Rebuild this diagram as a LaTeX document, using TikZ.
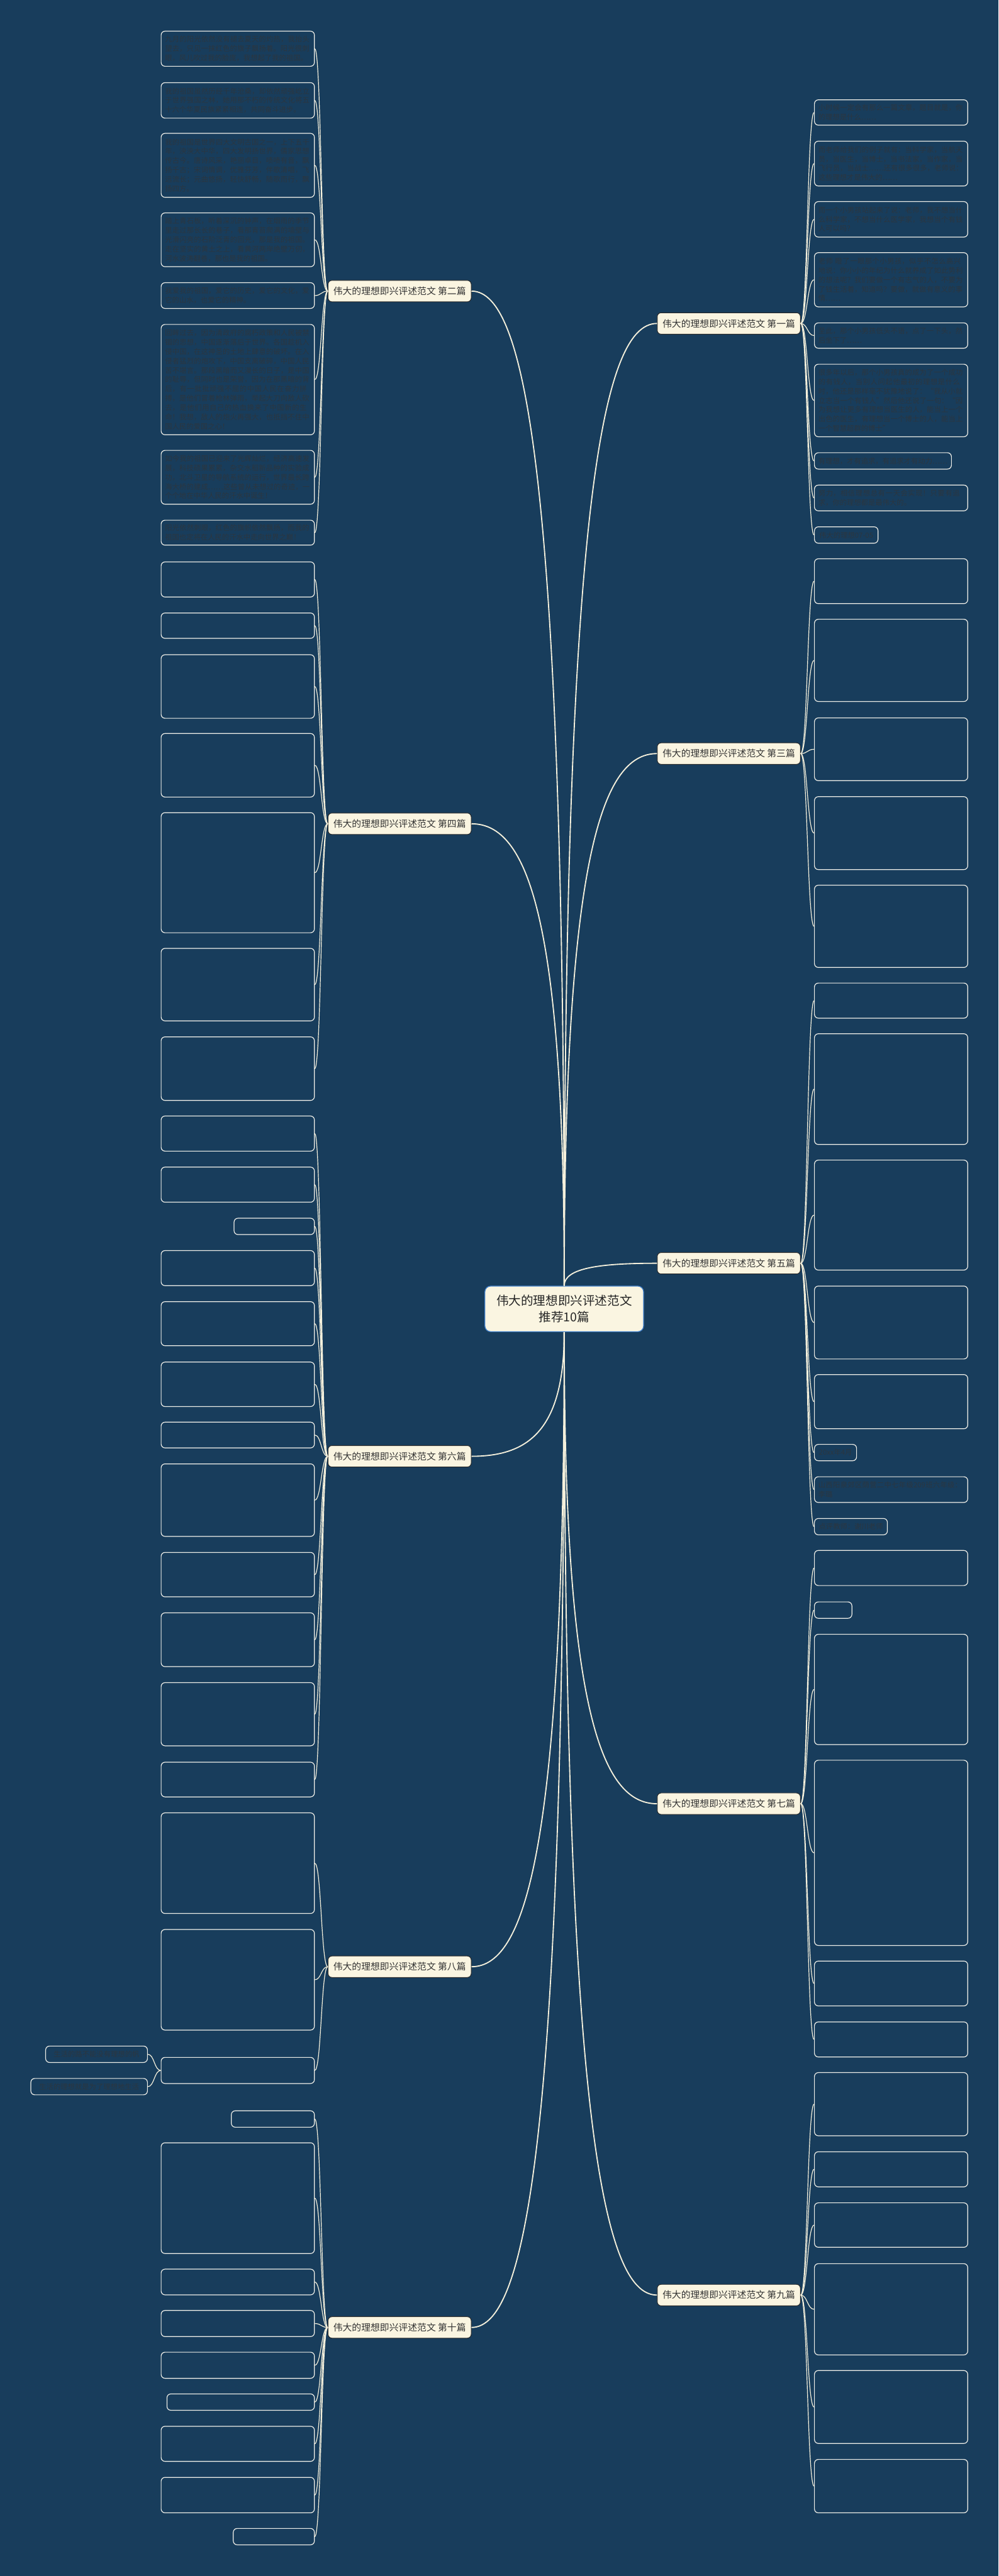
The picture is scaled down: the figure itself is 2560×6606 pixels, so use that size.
\documentclass[tikz,border=0pt]{standalone}
\usepackage{fontspec}
\setmainfont{Noto Sans CJK SC}
\XeTeXlinebreaklocale "zh"
\XeTeXlinebreakskip = 0pt plus 1pt
\usepackage{tikz}
\usetikzlibrary{calc, positioning}
\definecolor{bgblue}{HTML}{183D5C}
\definecolor{cream}{HTML}{FAF5E1}
\definecolor{wire}{HTML}{F4F0DC}
\definecolor{leafline}{HTML}{EEEEE8}
\definecolor{leaftext}{HTML}{2B3640}
\definecolor{rootline}{HTML}{3F7FCB}
\tikzstyle{root} = [rectangle, rounded corners=1.5mm, draw=rootline, line width=0.6pt, fill=cream, text=black!85, minimum width=40.7mm, minimum height=11.7mm, inner sep=0pt, align=center, font=\fontsize{9pt}{12pt}\selectfont]
\tikzstyle{topic} = [rectangle, rounded corners=1mm, draw=black!85, line width=0.45pt, fill=cream, text=black!80, minimum width=36.7mm, minimum height=5.5mm, inner sep=0pt, font=\fontsize{6.8pt}{8pt}\selectfont]
\tikzstyle{leaf} = [rectangle, rounded corners=1mm, draw=leafline, line width=0.55pt, fill=bgblue, text=leaftext, text width=37.3mm, inner xsep=1mm, inner ysep=0.9mm, align=left, font=\fontsize{5.2pt}{6.8pt}\selectfont]
\tikzstyle{leafR} = [leaf, anchor=north west]
\tikzstyle{leafL} = [leaf, anchor=north east]
\tikzstyle{tag} = [rectangle, rounded corners=1mm, draw=leafline, line width=0.55pt, fill=bgblue, text=leaftext, inner xsep=1mm, inner ysep=0.9mm, minimum height=4.2mm, font=\fontsize{5.2pt}{6.8pt}\selectfont]
\tikzstyle{tagR} = [tag, anchor=north west]
\tikzstyle{tagL} = [tag, anchor=north east]
\tikzstyle{trunk} = [draw=wire, line width=0.85pt]
\tikzstyle{twig} = [draw=wire, line width=0.55pt]

\begin{document}
\begin{tikzpicture}[x=0.1mm, y=-0.1mm]
	\useasboundingbox (0,0) rectangle (2560,6606);
	\fill[bgblue] (0,0) rectangle (2560,6606);

	% centre and the ten topics
	\node[root] (Root) at (1446.5,3356.5) {伟大的理想即兴评述范文\\推荐10篇};
	\node[topic] (P1) at (1868.5,829.5) {伟大的理想即兴评述范文 第一篇};
	\node[topic] (P2) at (1024.5,746.5) {伟大的理想即兴评述范文 第二篇};
	\node[topic] (P3) at (1868.5,1932.5) {伟大的理想即兴评述范文 第三篇};
	\node[topic] (P4) at (1024.5,2112.5) {伟大的理想即兴评述范文 第四篇};
	\node[topic] (P5) at (1868.5,3239.5) {伟大的理想即兴评述范文 第五篇};
	\node[topic] (P6) at (1024.5,3734.5) {伟大的理想即兴评述范文 第六篇};
	\node[topic] (P7) at (1868.5,4625.5) {伟大的理想即兴评述范文 第七篇};
	\node[topic] (P8) at (1024.5,5043.5) {伟大的理想即兴评述范文 第八篇};
	\node[topic] (P9) at (1868.5,5885.5) {伟大的理想即兴评述范文 第九篇};
	\node[topic] (P10) at (1024.5,5968.5) {伟大的理想即兴评述范文 第十篇};

	% right column
	\node[leafR, minimum height=6.5mm] (R1) at (2087,255) {小时候一定会有那么一篇文章，题目就是，你的理想是什么……};
	\node[leafR, minimum height=11.5mm] (R2) at (2087,361) {而老师给我们的例子就有：当科学家，当航天员，当医生，当博士，当书法家，当作家，当飞行员，当战士……还有很多很多，老师说：这些理想才是伟大的……};
	\node[leafR, minimum height=9.1mm] (R3) at (2087,516) {而一个小男孩站起来了说：老师，我不想当什么科学家，不想当什么医学家，我想当个有钱人可以吗？};
	\node[leafR, minimum height=13.9mm] (R4) at (2087,647) {老师 瞪了一眼那个小男孩，似乎不怎么高兴地说：你小小的年纪为什么就养成了如此势利的想法呢？我们要做一个有志气的人，不要为了钱生活着，知道吗？要做，就做有意义的事情……};
	\node[leafR, minimum height=6.5mm] (R5) at (2087,827) {至此，那个小男孩低头不语，点了一下头，然后坐下了……};
	\node[leafR, minimum height=18.6mm] (R6) at (2087,933) {很多年以后，那个小男孩真的成为了一个成功的有钱人，当别人问起他最初的理想是什么时，他还是那样毫不犹豫地说了：“我从小就立志当一个有钱人”然后他还说了一句：“因为我想让更多有理想当医生的人，能当上一个出色的医生，有理想当一个博士的人，能当上一个智慧超群的博士”};
	\node[tagR, minimum width=34.7mm] (R7) at (2087,1160) {有理想，才有追求，有追求才有动力……};
	\node[leafR, minimum height=6.6mm] (R8) at (2087,1243) {努力，相信理想总有一天会实现！只要有追求，你的理想都是最伟大的。};
	\node[tagR, minimum width=16.3mm] (R9) at (2087,1350) {伟大的理想07-05};
	\node[leafR, minimum height=11.5mm] (R10) at (2087,1432) {};
	\node[leafR, minimum height=21.1mm] (R11) at (2087,1587) {};
	\node[leafR, minimum height=16.1mm] (R12) at (2087,1840) {};
	\node[leafR, minimum height=18.7mm] (R13) at (2087,2042) {};
	\node[leafR, minimum height=21.1mm] (R14) at (2087,2269) {};
	\node[leafR, minimum height=9mm] (R15) at (2087,2520) {};
	\node[leafR, minimum height=28.4mm] (R16) at (2087,2650) {};
	\node[leafR, minimum height=28.2mm] (R17) at (2087,2974) {};
	\node[leafR, minimum height=18.7mm] (R18) at (2087,3297) {};
	\node[leafR, minimum height=13.9mm] (R19) at (2087,3524) {};
	\node[tagR, minimum width=10.8mm] (R20) at (2087,3703) {20xx年4月};
	\node[leafR, minimum height=6.6mm] (R21) at (2087,3786) {山西阳泉郊区荫营二中七年级209班六年级：李璐};
	\node[tagR, minimum width=18.7mm] (R22) at (2087,3893) {点评教师：谢川老师};
	\node[leafR, minimum height=9mm] (R23) at (2087,3975) {};
	\node[tagR, minimum width=9.6mm] (R24) at (2087,4107) {};
	\node[leafR, minimum height=28.3mm] (R25) at (2087,4190) {};
	\node[leafR, minimum height=47.5mm] (R26) at (2087,4513) {};
	\node[leafR, minimum height=11.5mm] (R27) at (2087,5028) {};
	\node[leafR, minimum height=9mm] (R28) at (2087,5184) {};
	\node[leafR, minimum height=16.2mm] (R29) at (2087,5314) {};
	\node[leafR, minimum height=9mm] (R30) at (2087,5517) {};
	\node[leafR, minimum height=11.4mm] (R31) at (2087,5648) {};
	\node[leafR, minimum height=23.4mm] (R32) at (2087,5804) {};
	\node[leafR, minimum height=18.7mm] (R33) at (2087,6078) {};
	\node[leafR, minimum height=13.7mm] (R34) at (2087,6306) {};

	% left column
	\node[leafL, minimum height=9mm] (L1) at (807,79) {九月的阳光依然没有褪去夏天的灼热，我抬头望去，只见一抹红色的旗子飘扬着。阳光很刺眼，风儿吹过我的脸庞，我想起了我的祖国。};
	\node[leafL, minimum height=9.1mm] (L2) at (807,211) {我的祖国虽然历经千年沧桑，却依然顽强屹立于世界强国之林，她用那不朽的传统文化将五十六个华夏民族紧紧相连，共同奋斗进步。};
	\node[leafL, minimum height=16.4mm] (L3) at (807,341) {我的祖国是世界四大文明古国之一，上下五千年，泱泱大中华，四大发明扬世界，儒家思想传古今。唐诗风采，艳丽卓目，啧啧有音，飘扬千古；宋词情调，优雅芬芳，伴歌清唱，飞远流长；元曲悠扬，轻快舒畅，随歌而行，飘扬四方。};
	\node[leafL, minimum height=13.8mm] (L4) at (807,545) {踏上青石板，听着深沉的钟声，在烟雨的季节里走过那长长的巷子，看那青苔爬满的墙壁与光滑闪亮的石阶泛青的回光，那是我的祖国。走在坚实的黄土之上，看黄河两岸绝壁万仞，河水波涛翻卷，那也是我的祖国。};
	\node[leafL, minimum height=6.6mm] (L5) at (807,724) {我爱我的祖国，爱它的历史，爱它的文化，爱它的山水，也爱它的精神。};
	\node[leafL, minimum height=28.3mm] (L6) at (807,831) {回眸过去，因为清政府的腐朽政策和人民被禁锢的思想，中国逐渐落后于世界。各国趁机入侵中国，在这神圣的土地上肆意的破坏。在入侵者猛烈的炮攻下，中国支离破碎，中国人民苦不堪言。那段黑暗而又漫长的日子，是中国的耻辱，但同时也是荣誉，因为在那黑暗的背后，有一批批顽强不屈的中国人民在奋力拼搏，是他们冒着枪林弹雨，举起大刀向敌人砍去，是他们用自己的热血换来了中国新的生命！我想，敌人的炮火再强大，也抵挡不住中国人民的爱国之心！};
	\node[leafL, minimum height=13.8mm] (L7) at (807,1154) {如今我的祖国已迎来了光辉灿烂，经济高速发展，科技硕果累累，杂交水稻新品种的实验成功，北斗卫星的导航系统的运行，世界最长跨海大桥的建成……这些曾从未想过的奇迹，一个个地在中华人民的汗水中诞生！};
	\node[leafL, minimum height=6.4mm] (L8) at (807,1333) {阳光依然刺眼，红色的旗帜依然飘扬，而我的祖国也定将在人民的汗水中走向世界之巅！};
	\node[leafL, minimum height=9mm] (L9) at (807,1440) {};
	\node[leafL, minimum height=6.5mm] (L10) at (807,1571) {};
	\node[leafL, minimum height=16.3mm] (L11) at (807,1678) {};
	\node[leafL, minimum height=16.3mm] (L12) at (807,1880) {};
	\node[leafL, minimum height=30.8mm] (L13) at (807,2083) {};
	\node[leafL, minimum height=18.6mm] (L14) at (807,2431) {};
	\node[leafL, minimum height=16.3mm] (L15) at (807,2658) {};
	\node[leafL, minimum height=9mm] (L16) at (807,2861) {};
	\node[leafL, minimum height=9mm] (L17) at (807,2992) {};
	\node[tagL, minimum width=20.6mm] (L18) at (807,3123) {};
	\node[leafL, minimum height=9mm] (L19) at (807,3206) {};
	\node[leafL, minimum height=11.3mm] (L20) at (807,3337) {};
	\node[leafL, minimum height=11.4mm] (L21) at (807,3492) {};
	\node[leafL, minimum height=6.6mm] (L22) at (807,3646) {};
	\node[leafL, minimum height=18.6mm] (L23) at (807,3753) {};
	\node[leafL, minimum height=11.4mm] (L24) at (807,3980) {};
	\node[leafL, minimum height=13.8mm] (L25) at (807,4135) {};
	\node[leafL, minimum height=16.2mm] (L26) at (807,4314) {};
	\node[leafL, minimum height=8.9mm] (L27) at (807,4518) {};
	\node[leafL, minimum height=25.8mm] (L28) at (807,4648) {};
	\node[leafL, minimum height=25.8mm] (L29) at (807,4947) {};
	\node[leafL, minimum height=6.7mm] (L30) at (807,5275) {};
	\node[tagL, minimum width=26.1mm] (L30x) at (379,5246) {生活的路不能没有理想的帆};
	\node[tagL, minimum width=29.9mm] (L30y) at (379,5329) {生活的理想就是为了理想地生活};
	\node[tagL, minimum width=21.3mm] (L31) at (807,5412) {};
	\node[leafL, minimum height=28.4mm] (L32) at (807,5494) {};
	\node[leafL, minimum height=6.6mm] (L33) at (807,5818) {};
	\node[leafL, minimum height=6.7mm] (L34) at (807,5924) {};
	\node[leafL, minimum height=6.7mm] (L35) at (807,6031) {};
	\node[tagL, minimum width=37.8mm] (L36) at (807,6138) {};
	\node[leafL, minimum height=9mm] (L37) at (807,6221) {};
	\node[leafL, minimum height=9.1mm] (L38) at (807,6352) {};
	\node[tagL, minimum width=20.8mm] (L39) at (807,6483) {};

	% centre to topics
	\foreach \dst/\side in {P1/west, P2/east, P3/west, P4/east, P5/west}
		\draw[trunk] let \p1=(Root.north), \p2=(\dst.\side) in (\p1) .. controls (\x1,{\y1+0.8*(\y2-\y1)}) and ({\x2-0.6*(\x2-\x1)},\y2) .. (\p2);
	\foreach \dst/\side in {P6/east, P7/west, P8/east, P9/west, P10/east}
		\draw[trunk] let \p1=(Root.south), \p2=(\dst.\side) in (\p1) .. controls (\x1,{\y1+0.8*(\y2-\y1)}) and ({\x2-0.6*(\x2-\x1)},\y2) .. (\p2);

	% topics to leaves
	\foreach \src/\dst in {P1/R1, P1/R2, P1/R3, P1/R4, P1/R5, P1/R6, P1/R7, P1/R8, P1/R9,
		P3/R10, P3/R11, P3/R12, P3/R13, P3/R14,
		P5/R15, P5/R16, P5/R17, P5/R18, P5/R19, P5/R20, P5/R21, P5/R22,
		P7/R23, P7/R24, P7/R25, P7/R26, P7/R27, P7/R28,
		P9/R29, P9/R30, P9/R31, P9/R32, P9/R33, P9/R34}
		\draw[twig] let \p1=(\src.east), \p2=(\dst.west) in (\p1) .. controls ({0.5*\x1+0.5*\x2},\y1) and ({0.5*\x1+0.5*\x2},\y2) .. (\p2);
	\foreach \src/\dst in {P2/L1, P2/L2, P2/L3, P2/L4, P2/L5, P2/L6, P2/L7, P2/L8,
		P4/L9, P4/L10, P4/L11, P4/L12, P4/L13, P4/L14, P4/L15,
		P6/L16, P6/L17, P6/L18, P6/L19, P6/L20, P6/L21, P6/L22, P6/L23, P6/L24, P6/L25, P6/L26, P6/L27,
		P8/L28, P8/L29, P8/L30, L30/L30x, L30/L30y,
		P10/L31, P10/L32, P10/L33, P10/L34, P10/L35, P10/L36, P10/L37, P10/L38, P10/L39}
		\draw[twig] let \p1=(\src.west), \p2=(\dst.east) in (\p1) .. controls ({0.5*\x1+0.5*\x2},\y1) and ({0.5*\x1+0.5*\x2},\y2) .. (\p2);
\end{tikzpicture}
\end{document}
